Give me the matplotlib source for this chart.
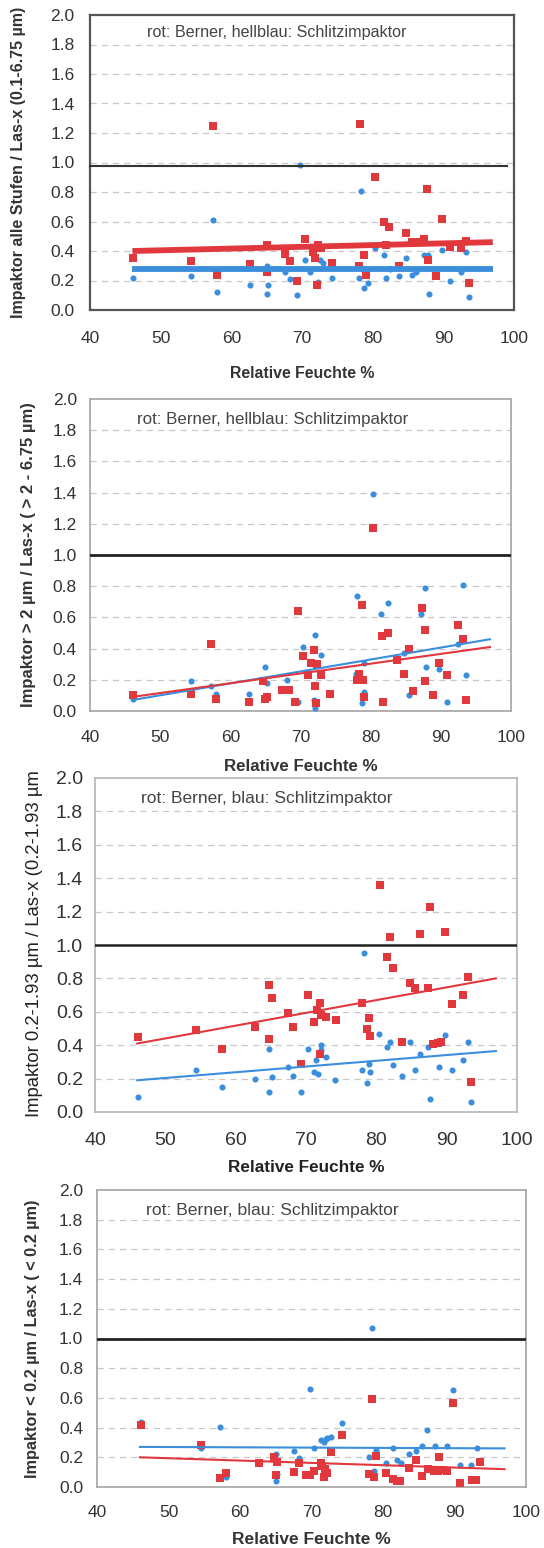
import matplotlib
matplotlib.use('Agg')
import matplotlib.pyplot as plt
import numpy as np

plt.rcParams['font.family'] = ['Liberation Sans', 'DejaVu Sans']

RED = '#e0383c'
BLUE = '#3a8edc'

# ---- panel 1: alle Stufen (0.1-6.75 um)
p1_red_x = [46.1, 54.3, 57.4, 58.0, 62.7, 65.0, 65.0, 67.6, 68.3, 69.3, 70.4, 71.5, 71.8, 72.2, 72.1, 72.7, 74.2,
            78.1, 78.2, 78.8, 79.1, 80.4, 81.6, 82.3, 81.9, 83.7, 84.7, 85.5, 86.2, 87.2, 87.7, 87.8, 89.0, 89.8,
            90.9, 92.5, 93.2, 93.6]
p1_red_y = [0.35, 0.33, 1.25, 0.24, 0.31, 0.44, 0.26, 0.38, 0.33, 0.20, 0.48, 0.39, 0.35, 0.44, 0.17, 0.42, 0.32,
            0.30, 1.26, 0.37, 0.24, 0.90, 0.60, 0.56, 0.44, 0.30, 0.52, 0.46, 0.46, 0.48, 0.82, 0.34, 0.23, 0.62,
            0.43, 0.42, 0.47, 0.18]
p1_blue_x = [46.1, 54.3, 57.4, 58.0, 62.7, 65.0, 65.1, 65.2, 67.6, 68.3, 69.3, 69.7, 70.4, 71.2, 72.2, 72.5, 73.0,
             74.2, 78.1, 78.4, 78.8, 79.3, 80.4, 81.6, 81.9, 82.4, 83.7, 84.7, 85.5, 86.2, 87.2, 87.8, 88.0, 89.8,
             90.9, 92.5, 93.2, 93.6]
p1_blue_y = [0.22, 0.23, 0.61, 0.12, 0.17, 0.30, 0.11, 0.17, 0.26, 0.21, 0.10, 0.985, 0.34, 0.26, 0.19, 0.34, 0.32,
             0.22, 0.22, 0.81, 0.15, 0.18, 0.42, 0.37, 0.22, 0.28, 0.23, 0.35, 0.24, 0.26, 0.37, 0.37, 0.11, 0.41,
             0.20, 0.26, 0.39, 0.09]
p1_trend_x = [46, 97]
p1_trend_red = [0.40, 0.46]
p1_trend_blue = [0.28, 0.28]
p1_ref_x = [40, 99]
p1_ref_y = [0.975, 0.975]

# ---- panel 2: > 2 um
p2_red_x = [46.1, 54.4, 57.3, 58.0, 62.7, 64.9, 65.2, 64.7, 67.4, 68.3, 69.2, 69.6, 70.3, 71.1, 71.5, 71.9, 72.1,
            72.2, 72.4, 72.9, 74.2, 78.0, 78.4, 78.8, 78.9, 79.1, 80.4, 81.8, 81.6, 82.4, 83.7, 84.7, 85.4, 86.0,
            87.3, 87.7, 87.8, 88.9, 89.8, 90.9, 92.4, 93.1, 93.6]
p2_red_y = [0.10, 0.11, 0.43, 0.08, 0.06, 0.075, 0.09, 0.19, 0.135, 0.135, 0.06, 0.64, 0.35, 0.23, 0.31, 0.39, 0.16,
            0.05, 0.30, 0.23, 0.11, 0.20, 0.24, 0.68, 0.20, 0.09, 1.17, 0.06, 0.48, 0.50, 0.33, 0.24, 0.40, 0.125,
            0.66, 0.52, 0.19, 0.10, 0.31, 0.23, 0.55, 0.46, 0.07]
p2_blue_x = [46.1, 54.4, 57.3, 58.0, 62.7, 64.9, 65.2, 68.1, 69.7, 70.3, 71.9, 72.1, 72.1, 72.9, 78.1, 77.9, 78.8,
             79.0, 79.1, 80.4, 81.5, 82.4, 84.7, 85.5, 87.2, 87.7, 87.9, 89.8, 90.9, 92.4, 93.1, 93.6]
p2_blue_y = [0.08, 0.19, 0.16, 0.11, 0.11, 0.28, 0.18, 0.20, 0.06, 0.41, 0.07, 0.49, 0.02, 0.36, 0.74, 0.24, 0.05,
             0.31, 0.12, 1.39, 0.62, 0.69, 0.37, 0.10, 0.62, 0.79, 0.28, 0.27, 0.06, 0.43, 0.81, 0.23]
p2_trend_x = [46, 97]
p2_trend_red = [0.09, 0.41]
p2_trend_blue = [0.07, 0.46]

# ---- panel 3: 0.2-1.93 um
p3_red_x = [46.1, 54.4, 58.0, 62.7, 64.8, 64.8, 65.2, 67.5, 68.2, 69.3, 70.3, 71.1, 71.6, 72.0, 72.1, 72.0, 72.8,
            74.2, 78.0, 78.7, 78.9, 79.1, 80.5, 81.5, 82.0, 82.3, 83.7, 84.8, 85.5, 86.2, 87.3, 87.7, 88.0, 88.7,
            89.2, 89.8, 90.8, 92.3, 93.1, 93.5]
p3_red_y = [0.45, 0.49, 0.38, 0.51, 0.76, 0.44, 0.68, 0.59, 0.51, 0.29, 0.70, 0.54, 0.61, 0.655, 0.58, 0.35, 0.57,
            0.55, 0.655, 0.50, 0.565, 0.455, 1.36, 0.93, 1.05, 0.86, 0.42, 0.77, 0.74, 1.065, 0.745, 1.23, 0.41,
            0.415, 0.42, 1.075, 0.645, 0.70, 0.81, 0.18]
p3_blue_x = [46.1, 54.4, 58.0, 62.7, 64.8, 64.8, 65.2, 67.5, 68.2, 69.3, 70.3, 71.1, 71.4, 71.7, 72.1, 72.2, 72.8,
             74.1, 78.0, 78.3, 78.7, 79.0, 79.1, 80.4, 81.5, 82.0, 82.3, 83.7, 84.8, 85.5, 86.2, 87.3, 87.7, 88.9,
             89.8, 90.8, 92.3, 93.1, 93.5]
p3_blue_y = [0.09, 0.25, 0.15, 0.20, 0.38, 0.12, 0.21, 0.27, 0.215, 0.12, 0.38, 0.24, 0.31, 0.23, 0.40, 0.37, 0.33,
             0.19, 0.25, 0.95, 0.175, 0.29, 0.24, 0.47, 0.39, 0.42, 0.28, 0.215, 0.42, 0.25, 0.35, 0.39, 0.08, 0.27,
             0.46, 0.25, 0.31, 0.42, 0.06]
p3_trend_x = [46, 97]
p3_trend_red = [0.41, 0.80]
p3_trend_blue = [0.19, 0.365]

# ---- panel 4: < 0.2 um
p4_red_x = [46.1, 54.5, 57.2, 58.1, 62.7, 65.0, 64.7, 65.2, 67.5, 68.2, 69.3, 69.8, 70.4, 71.3, 71.5, 71.7, 71.9,
            72.1, 72.7, 74.2, 78.0, 78.4, 78.7, 79.0, 80.4, 81.4, 82.0, 82.4, 83.6, 84.6, 85.5, 86.3, 87.1, 87.7,
            87.8, 88.4, 88.9, 89.8, 90.8, 92.4, 93.0, 93.5]
p4_red_y = [0.42, 0.285, 0.06, 0.095, 0.16, 0.08, 0.20, 0.17, 0.10, 0.16, 0.08, 0.08, 0.105, 0.16, 0.14, 0.07, 0.12,
            0.095, 0.235, 0.35, 0.09, 0.59, 0.07, 0.21, 0.095, 0.055, 0.04, 0.04, 0.13, 0.185, 0.075, 0.12, 0.105,
            0.105, 0.20, 0.115, 0.105, 0.565, 0.03, 0.05, 0.05, 0.17]
p4_blue_x = [46.1, 54.5, 57.2, 58.1, 65.0, 65.0, 65.2, 67.5, 68.2, 69.8, 70.3, 71.3, 71.7, 72.0, 72.2, 72.7, 74.2,
             78.0, 78.4, 78.7, 79.0, 80.4, 81.4, 82.0, 82.5, 83.6, 84.6, 85.5, 86.1, 87.3, 89.0, 89.8, 90.8, 92.3,
             93.1]
p4_blue_y = [0.44, 0.265, 0.405, 0.07, 0.04, 0.225, 0.09, 0.24, 0.195, 0.66, 0.265, 0.315, 0.30, 0.32, 0.33, 0.34,
             0.43, 0.20, 1.07, 0.105, 0.25, 0.16, 0.265, 0.185, 0.16, 0.22, 0.24, 0.275, 0.385, 0.275, 0.275, 0.65,
             0.145, 0.145, 0.265]
p4_trend_x = [46, 97]
p4_trend_red = [0.20, 0.12]
p4_trend_blue = [0.27, 0.26]

yticks = np.arange(0, 2.01, 0.2)
xticks = [40, 50, 60, 70, 80, 90, 100]

W, H = 544, 1548
fig = plt.figure(figsize=(W / 100, H / 100), dpi=100)
fig.patch.set_facecolor('white')


def make_axes(l, t, r, b):
    return fig.add_axes([l / W, 1 - b / H, (r - l) / W, (b - t) / H])


def setup(ax, frame_col, frame_lw, tick_fs, xpad, ypad):
    ax.set_xlim(40, 100)
    ax.set_ylim(0, 2.0)
    ax.set_xticks(xticks)
    ax.set_yticks(yticks)
    ax.set_yticklabels(['%.1f' % v for v in yticks])
    ax.tick_params(axis='both', length=0, labelsize=tick_fs, labelcolor='#333333')
    ax.tick_params(axis='x', pad=xpad)
    ax.tick_params(axis='y', pad=ypad)
    for v in yticks[1:-1]:
        ax.axhline(v, color='#c8c8c8', lw=0.9, ls=(0, (5, 4)), zorder=1)
    for s in ax.spines.values():
        s.set_color(frame_col)
        s.set_linewidth(frame_lw)


def scatter(ax, rx, ry, bx, by):
    ax.plot(bx, by, 'o', color=BLUE, ms=4.4, mew=0, zorder=3)
    ax.plot(rx, ry, 's', color=RED, ms=5.6, mew=0, zorder=4)


# panel 1
ax1 = make_axes(90, 15, 514, 310)
setup(ax1, '#555555', 1.6, 12.5, 15, 11)
scatter(ax1, p1_red_x, p1_red_y, p1_blue_x, p1_blue_y)
ax1.plot(p1_ref_x, p1_ref_y, color='#333333', lw=1.5, zorder=5, clip_on=False)
ax1.plot(p1_trend_x, p1_trend_red, color=RED, lw=4.2, zorder=5, solid_capstyle='butt')
ax1.plot(p1_trend_x, p1_trend_blue, color=BLUE, lw=4.2, zorder=5, solid_capstyle='butt')
ax1.text(48, 1.88, 'rot: Berner, hellblau: Schlitzimpaktor', fontsize=11.6, color='#444444', va='center')
ax1.set_xlabel('Relative Feuchte %', fontsize=11.4, fontweight='bold', color='#333333', va='center')
ax1.xaxis.set_label_coords(0.5, -(373 - 310) / 295)
ax1.set_ylabel('Impaktor alle Stufen / Las-x (0.1-6.75 µm)', fontsize=11.5, fontweight='bold', color='#333333',
               va='center')
ax1.yaxis.set_label_coords((19 - 90) / 424, 0.5)

# panel 2
ax2 = make_axes(90, 399, 511, 711)
setup(ax2, '#aaaaaa', 1.3, 12.5, 13.5, 9.5)
scatter(ax2, p2_red_x, p2_red_y, p2_blue_x, p2_blue_y)
ax2.axhline(1.0, color='#222222', lw=2, zorder=5)
ax2.plot(p2_trend_x, p2_trend_blue, color=BLUE, lw=1.5, zorder=5)
ax2.plot(p2_trend_x, p2_trend_red, color=RED, lw=1.5, zorder=5)
ax2.text(46.7, 1.87, 'rot: Berner, hellblau: Schlitzimpaktor', fontsize=12.2, color='#444444', va='center')
ax2.set_xlabel('Relative Feuchte %', fontsize=12.2, fontweight='bold', color='#333333', va='center')
ax2.xaxis.set_label_coords(0.5, -(767 - 711) / 312)
ax2.set_ylabel('Impaktor > 2 µm / Las-x ( > 2 - 6.75 µm)', fontsize=12, fontweight='bold', color='#333333',
               va='center')
ax2.yaxis.set_label_coords((29 - 90) / 421, 0.5)

# panel 3
ax3 = make_axes(95, 778, 517, 1112)
setup(ax3, '#bbbbbb', 1.3, 14, 14.5, 8.6)
scatter(ax3, p3_red_x, p3_red_y, p3_blue_x, p3_blue_y)
ax3.axhline(1.0, color='#222222', lw=1.8, zorder=5)
ax3.plot(p3_trend_x, p3_trend_red, color=RED, lw=1.5, zorder=5)
ax3.plot(p3_trend_x, p3_trend_blue, color=BLUE, lw=1.5, zorder=5)
ax3.text(46.6, 1.875, 'rot: Berner, blau: Schlitzimpaktor', fontsize=12.5, color='#444444', va='center')
ax3.set_xlabel('Relative Feuchte %', fontsize=12.3, fontweight='bold', color='#222222', va='center')
ax3.xaxis.set_label_coords(0.5, -(1167 - 1112) / 334)
fig.text(35 / W, 1 - 1117 / H, 'Impaktor 0.2-1.93 µm / Las-x (0.2-1.93 µm', rotation=90, fontsize=13.3,
         color='#222222', ha='center', va='bottom')

# panel 4
ax4 = make_axes(97, 1190, 526, 1487)
setup(ax4, '#aaaaaa', 1.3, 12.5, 13, 10)
scatter(ax4, p4_red_x, p4_red_y, p4_blue_x, p4_blue_y)
ax4.axhline(1.0, color='#222222', lw=2, zorder=5)
ax4.plot(p4_trend_x, p4_trend_blue, color=BLUE, lw=1.5, zorder=5)
ax4.plot(p4_trend_x, p4_trend_red, color=RED, lw=1.5, zorder=5)
ax4.text(46.9, 1.865, 'rot: Berner, blau: Schlitzimpaktor', fontsize=12.6, color='#444444', va='center')
ax4.set_xlabel('Relative Feuchte %', fontsize=12.5, fontweight='bold', color='#333333', va='center')
ax4.xaxis.set_label_coords(0.5, -(1540 - 1487) / 297)
ax4.set_ylabel('Impaktor < 0.2 µm / Las-x ( < 0.2 µm)', fontsize=11.7, fontweight='bold', color='#333333',
               va='center')
ax4.yaxis.set_label_coords((33 - 97) / 429, 0.5)

plt.savefig('out.png', dpi=100)
